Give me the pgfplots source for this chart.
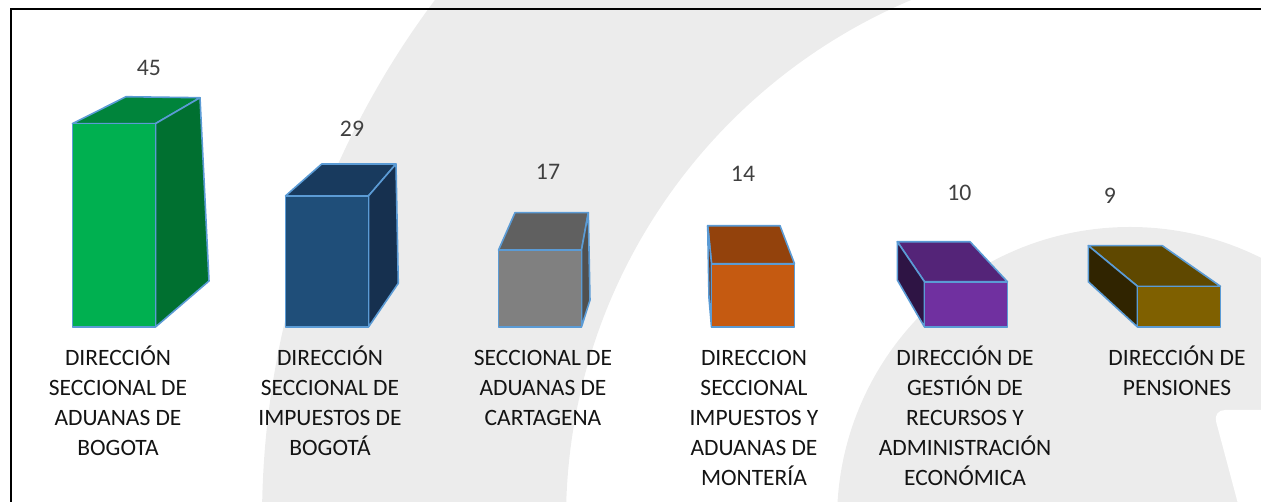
\documentclass[border=0pt]{standalone}
\usepackage{fontspec}
\setmainfont{Carlito}
\usepackage{pgfplots}
\pgfplotsset{compat=1.18}
\definecolor{edge}{HTML}{5B9BD5}
\definecolor{wm}{HTML}{ECECEC}
\definecolor{lab}{HTML}{404040}
\definecolor{cat}{HTML}{141414}
\definecolor{gF}{HTML}{00B050}\definecolor{gT}{HTML}{00843B}\definecolor{gS}{HTML}{007030}
\definecolor{bF}{HTML}{1F4E79}\definecolor{bT}{HTML}{183A5E}\definecolor{bS}{HTML}{16304F}
\definecolor{yF}{HTML}{808080}\definecolor{yT}{HTML}{606060}\definecolor{yS}{HTML}{505050}
\definecolor{oF}{HTML}{C55A11}\definecolor{oT}{HTML}{93420C}\definecolor{oS}{HTML}{62290A}
\definecolor{pF}{HTML}{7030A0}\definecolor{pT}{HTML}{542478}\definecolor{pS}{HTML}{2E1444}
\definecolor{kF}{HTML}{7F6000}\definecolor{kT}{HTML}{5F4800}\definecolor{kS}{HTML}{302400}
\begin{document}
\begin{tikzpicture}
% watermark background (pixel coordinates)
\begin{scope}[shift={(0,376.5pt)}, x=0.75pt, y=-0.75pt]
  \clip (0,0) rectangle (1261,502);
  \fill[wm, even odd rule] (1130,520) circle[radius=651pt] (1130,520) circle[radius=423pt];
  \fill[wm] (1130,520) circle[radius=219.75pt];
  \fill[white, rounded corners=9pt] (1213,410) -- (1290,410) -- (1290,530) -- (1245,530) -- cycle;
\end{scope}
\begin{axis}[
  scale only axis, width=945.75pt, height=376.5pt,
  xmin=-0.5352, xmax=5.3850, ymin=-38.72, ymax=72.35,
  axis x line*=middle, axis y line=none,
  x axis line style={draw=none},
  major tick length=0pt,
  xtick={0.0188,1.0141,2.0141,3.0047,3.9953,4.9906},
  xticklabels={
    {\rule{0pt}{16pt}DIRECCIÓN\\SECCIONAL DE\\ADUANAS DE\\BOGOTA},
    {\rule{0pt}{16pt}DIRECCIÓN\\SECCIONAL DE\\IMPUESTOS DE\\BOGOTÁ},
    {\rule{0pt}{16pt}SECCIONAL DE\\ADUANAS DE\\CARTAGENA},
    {\rule{0pt}{16pt}DIRECCION\\SECCIONAL\\IMPUESTOS Y\\ADUANAS DE\\MONTERÍA},
    {\rule{0pt}{16pt}DIRECCIÓN DE\\GESTIÓN DE\\RECURSOS Y\\ADMINISTRACIÓN\\ECONÓMICA},
    {\rule{0pt}{16pt}DIRECCIÓN DE\\PENSIONES}},
  xticklabel style={align=center, anchor=north, text=cat,
    font=\fontsize{17.6pt}{22.5pt}\selectfont, yshift=-9pt},
  no markers,
  every axis plot/.append style={draw=edge, line width=1.2pt, line join=round},
]
% bar 1 (45)
\addplot[fill=gT] coordinates {(-0.1948,45) (0.0563,50.95) (0.4038,50.73) (0.1948,45)} -- cycle;
\addplot[fill=gS] coordinates {(0.1948,45) (0.4038,50.73) (0.4460,10.18) (0.1948,0)} -- cycle;
\addplot[ybar, bar width=0.3897, bar shift=0pt, fill=gF] coordinates {(0,45)};
% bar 2 (29)
\addplot[fill=bT] coordinates {(0.8052,29) (0.9751,36.06) (1.3239,36.06) (1.1948,29)} -- cycle;
\addplot[fill=bS] coordinates {(1.1948,29) (1.3239,36.06) (1.3347,9.67) (1.1948,0)} -- cycle;
\addplot[ybar, bar width=0.3897, bar shift=0pt, fill=bF] coordinates {(1,29)};
% bar 3 (17)
\addplot[fill=yT] coordinates {(1.8052,17) (1.8826,25.29) (2.2268,25.29) (2.1948,17)} -- cycle;
\addplot[fill=yS] coordinates {(2.1948,17) (2.2268,25.29) (2.2347,5.97) (2.1948,0)} -- cycle;
\addplot[ybar, bar width=0.3897, bar shift=0pt, fill=yF] coordinates {(2,17)};
% bar 4 (14)
\addplot[fill=oT] coordinates {(2.8052,14) (2.7873,22.41) (3.1268,22.41) (3.1948,14)} -- cycle;
\addplot[fill=oS] coordinates {(2.8052,14) (2.7873,22.41) (2.7934,6.42) (2.8052,0)} -- cycle;
\addplot[ybar, bar width=0.3897, bar shift=0pt, fill=oF] coordinates {(3,14)};
% bar 5 (10)
\addplot[fill=pT] coordinates {(3.8052,10) (3.6775,18.87) (4.0188,18.87) (4.1948,10)} -- cycle;
\addplot[fill=pS] coordinates {(3.8052,10) (3.6775,18.87) (3.6775,10.40) (3.8052,0)} -- cycle;
\addplot[ybar, bar width=0.3897, bar shift=0pt, fill=pF] coordinates {(4,10)};
% bar 6 (9)
\addplot[fill=kT] coordinates {(4.8052,9) (4.5742,17.99) (4.9216,17.99) (5.1948,9)} -- cycle;
\addplot[fill=kS] coordinates {(4.8052,9) (4.5742,17.99) (4.5742,10.02) (4.8052,0)} -- cycle;
\addplot[ybar, bar width=0.3897, bar shift=0pt, fill=kF] coordinates {(5,9)};
% data labels
\begin{scope}[every node/.style={anchor=base, text=lab, font=\fontsize{17.8pt}{21pt}\selectfont}]
\node at (axis cs:0.1643,55.75) {45};
\node at (axis cs:1.1174,42.04) {29};
\node at (axis cs:2.0376,32.74) {17};
\node at (axis cs:2.9531,32.08) {14};
\node at (axis cs:3.9690,27.88) {10};
\node at (axis cs:4.6761,27.43) {9};
\end{scope}
\end{axis}
% frame
\begin{scope}[shift={(0,376.5pt)}, x=0.75pt, y=-0.75pt]
  \draw[black, line width=1.6pt] (11,520) -- (11,9) -- (1280,9);
\end{scope}
\pgfresetboundingbox
\path[use as bounding box] (0,0) rectangle (945.75pt,376.5pt);
\end{tikzpicture}
\end{document}
